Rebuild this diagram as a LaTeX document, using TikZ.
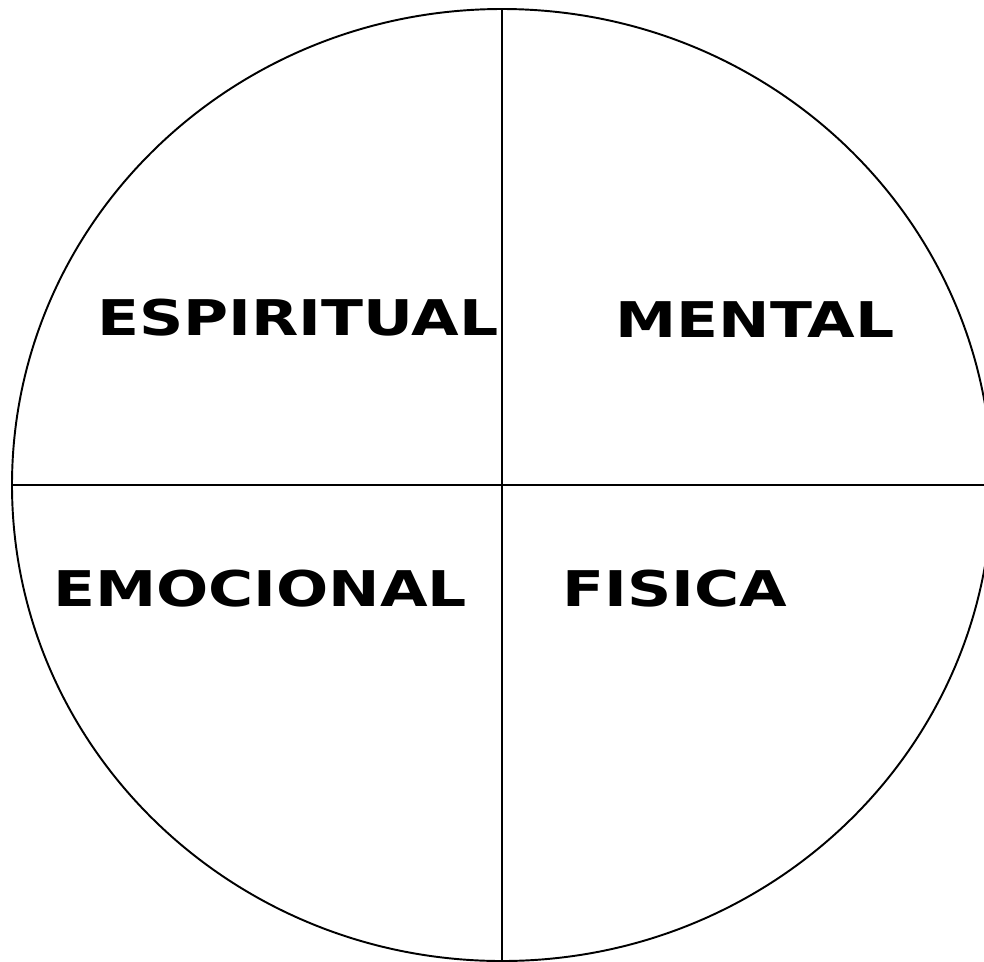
\documentclass[tikz,border=0pt]{standalone}
\usepackage{fontspec}
\newfontfamily\labelfont{DejaVu Sans}
\usetikzlibrary{positioning}

\begin{document}
\begin{tikzpicture}[
  x=0.02cm, y=-0.02cm,
  ring/.style  = {line width=1.1pt},
  cut/.style   = {line width=1.1pt},
  part/.style  = {font=\labelfont\bfseries\fontsize{28}{34}\selectfont,
                  inner sep=0pt, xscale=1.25, transform shape},
]
  \useasboundingbox (0,0) rectangle (984,961);
  \coordinate (c) at (502,485);
  \draw[ring] (c) ellipse [x radius=490, y radius=476];

  \coordinate (top)    at (502,9);
  \coordinate (bottom) at (502,961);
  \coordinate (left)   at (12,485);
  \coordinate (right)  at (984,485);
  \draw[cut] (top) -- (bottom);
  \draw[cut] (left) -- (right);

  \node[part] (spirit) at (298,318) {ESPIRITUAL};
  \node[part] (mind)   at (755,320) {MENTAL};
  \node[part] (emo)    at (260,589) {EMOCIONAL};
  \node[part] (body)   at (675,589) {FISICA};
\end{tikzpicture}
\end{document}
